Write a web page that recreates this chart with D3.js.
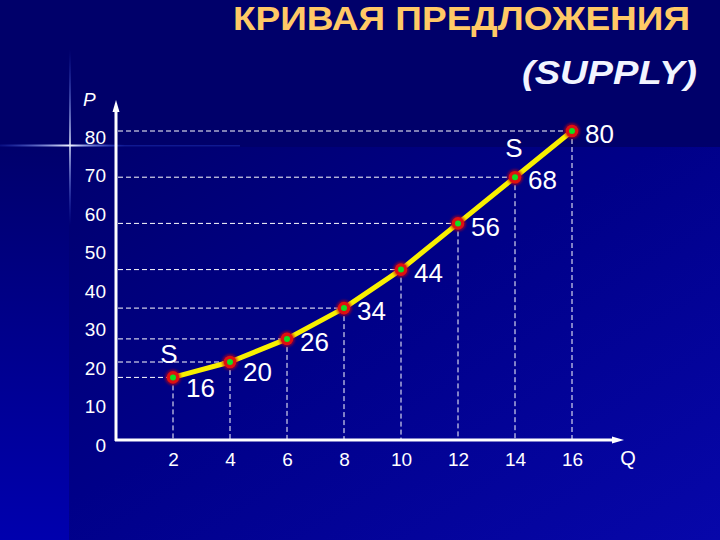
<!DOCTYPE html>
<html>
<head>
<meta charset="utf-8">
<script src="https://cdn.jsdelivr.net/npm/d3@7"></script>
<style>
  html, body { margin: 0; padding: 0; background: #000068; }
  svg { display: block; font-family: Arial, "Liberation Sans", sans-serif; }
</style>
</head>
<body>
<svg id="chart" width="720" height="540"></svg>
<script>
// supply schedule: quantity Q and price P
var quantity = [2, 4, 6, 8, 10, 12, 14, 16];
var price = [16, 20, 26, 34, 44, 56, 68, 80];
var yTicks = [0, 10, 20, 30, 40, 50, 60, 70, 80];
var xTicks = [2, 4, 6, 8, 10, 12, 14, 16];
var title = "КРИВАЯ ПРЕДЛОЖЕНИЯ";
var subtitle = "(SUPPLY)";

var svg = d3.select("#chart");
var defs = svg.append("defs");

// background pieces
var g1 = defs.append("linearGradient").attr("id", "mainBg")
  .attr("x1", 0).attr("y1", 0).attr("x2", 1).attr("y2", 1);
g1.append("stop").attr("offset", "0%").attr("stop-color", "#00006e");
g1.append("stop").attr("offset", "45%").attr("stop-color", "#000088");
g1.append("stop").attr("offset", "100%").attr("stop-color", "#0707aa");

var g2 = defs.append("linearGradient").attr("id", "leftBg")
  .attr("x1", 0).attr("y1", 0).attr("x2", 0).attr("y2", 1);
g2.append("stop").attr("offset", "0%").attr("stop-color", "#00006c");
g2.append("stop").attr("offset", "100%").attr("stop-color", "#0000ae");

var gh = defs.append("linearGradient").attr("id", "flareH");
gh.append("stop").attr("offset", "0%").attr("stop-color", "#3a5cff").attr("stop-opacity", 0.15);
gh.append("stop").attr("offset", "56%").attr("stop-color", "#f0f4ff").attr("stop-opacity", 1);
gh.append("stop").attr("offset", "100%").attr("stop-color", "#3a5cff").attr("stop-opacity", 0);

var gv = defs.append("linearGradient").attr("id", "flareV")
  .attr("x1", 0).attr("y1", 0).attr("x2", 0).attr("y2", 1);
gv.append("stop").attr("offset", "0%").attr("stop-color", "#3a5cff").attr("stop-opacity", 0);
gv.append("stop").attr("offset", "54%").attr("stop-color", "#e8f0ff").attr("stop-opacity", 1);
gv.append("stop").attr("offset", "100%").attr("stop-color", "#3a5cff").attr("stop-opacity", 0);

defs.append("filter").attr("id", "glow")
  .append("feGaussianBlur").attr("stdDeviation", 1.2);

svg.append("rect").attr("width", 720).attr("height", 540).attr("fill", "#00006a");
svg.append("rect").attr("x", 69).attr("y", 147).attr("width", 651).attr("height", 393)
  .attr("fill", "url(#mainBg)");
svg.append("rect").attr("x", 0).attr("y", 147).attr("width", 69).attr("height", 393)
  .attr("fill", "url(#leftBg)");

// lens-flare cross
svg.append("rect").attr("x", 70).attr("y", 145).attr("width", 170).attr("height", 1.5)
  .attr("fill", "#2a44dd").attr("opacity", 0.35);
svg.append("rect").attr("x", 0).attr("y", 144.5).attr("width", 125).attr("height", 2)
  .attr("fill", "url(#flareH)");
svg.append("rect").attr("x", 69).attr("y", 50).attr("width", 2).attr("height", 175)
  .attr("fill", "url(#flareV)").attr("opacity", 0.75);

// titles
svg.append("text")
  .attr("x", 233).attr("y", 30)
  .attr("textLength", 457).attr("lengthAdjust", "spacingAndGlyphs")
  .attr("font-size", 34).attr("font-weight", "bold")
  .attr("fill", "#ffc966")
  .text(title);

svg.append("text")
  .attr("x", 522).attr("y", 84)
  .attr("textLength", 175).attr("lengthAdjust", "spacingAndGlyphs")
  .attr("font-size", 34).attr("font-weight", "bold").attr("font-style", "italic")
  .attr("fill", "#f2f4ff")
  .text(subtitle);

// scales
var x = d3.scaleLinear().domain([0, 16]).range([116, 572]);
var y = d3.scaleLinear().domain([0, 80]).range([439, 131]);

// axes (labels only; lines drawn below with arrows)
var yAxis = svg.append("g")
  .attr("transform", "translate(116,0)")
  .call(d3.axisLeft(y).tickValues(yTicks).tickSize(0).tickPadding(10));
yAxis.select(".domain").remove();
yAxis.selectAll("text")
  .attr("transform", "translate(0,6)")
  .attr("font-size", 19).attr("font-family", "Arial, 'Liberation Sans', sans-serif")
  .attr("fill", "#ffffff");

var xAxis = svg.append("g")
  .attr("transform", "translate(0,440)")
  .call(d3.axisBottom(x).tickValues(xTicks).tickSize(0).tickPadding(13));
xAxis.select(".domain").remove();
xAxis.selectAll("text")
  .attr("font-size", 19).attr("font-family", "Arial, 'Liberation Sans', sans-serif")
  .attr("fill", "#ffffff");

// guide lines
var pts = quantity.map(function(q, i) { return {q: q, p: price[i]}; });

svg.append("g").selectAll("line.h")
  .data(pts).enter().append("line")
    .attr("x1", x(0) + 2).attr("x2", function(d) { return x(d.q); })
    .attr("y1", function(d) { return y(d.p); }).attr("y2", function(d) { return y(d.p); })
    .attr("stroke", "#ffffff").attr("stroke-width", 1).attr("stroke-dasharray", "5,3");

svg.append("g").selectAll("line.v")
  .data(pts).enter().append("line")
    .attr("x1", function(d) { return x(d.q); }).attr("x2", function(d) { return x(d.q); })
    .attr("y1", function(d) { return y(d.p); }).attr("y2", y(0))
    .attr("stroke", "#ffffff").attr("stroke-width", 1).attr("stroke-dasharray", "5,3");

// axis lines with arrows
svg.append("line")
  .attr("x1", x(0)).attr("x2", x(0)).attr("y1", y(0) + 2).attr("y2", 108)
  .attr("stroke", "#ffffff").attr("stroke-width", 3);
svg.append("path")
  .attr("d", "M" + x(0) + ",100 L" + (x(0) - 3.5) + ",112 L" + (x(0) + 3.5) + ",112 Z")
  .attr("fill", "#ffffff");

svg.append("line")
  .attr("x1", x(0) - 1).attr("x2", 614).attr("y1", y(0) + 1).attr("y2", y(0) + 1)
  .attr("stroke", "#ffffff").attr("stroke-width", 3);
svg.append("path")
  .attr("d", "M624," + (y(0) + 1) + " L612," + (y(0) - 2.5) + " L612," + (y(0) + 4.5) + " Z")
  .attr("fill", "#ffffff");

// axis names
svg.append("text").attr("x", 83).attr("y", 106)
  .attr("font-size", 19).attr("font-style", "italic").attr("fill", "#ffffff").text("P");
svg.append("text").attr("x", 628).attr("y", 465).attr("text-anchor", "middle")
  .attr("font-size", 20).attr("fill", "#ffffff").text("Q");

// supply curve
var line = d3.line()
  .x(function(d) { return x(d.q); })
  .y(function(d) { return y(d.p); });

svg.append("path")
  .datum(pts)
  .attr("d", line)
  .attr("fill", "none")
  .attr("stroke", "#f8f000")
  .attr("stroke-width", 5)
  .attr("stroke-linejoin", "round");

var marks = svg.append("g").selectAll("g")
  .data(pts).enter().append("g")
    .attr("transform", function(d) { return "translate(" + x(d.q) + "," + y(d.p) + ")"; });
marks.append("circle").attr("r", 8).attr("fill", "#c80010").attr("opacity", 0.6)
  .attr("filter", "url(#glow)");
marks.append("circle").attr("r", 6.3).attr("fill", "#e01010");
marks.append("circle").attr("r", 3).attr("fill", "#10e020");

// value labels
svg.append("g").selectAll("text")
  .data(pts).enter().append("text")
    .attr("x", function(d) { return x(d.q) + 13; })
    .attr("y", function(d, i) { return y(d.p) + (i < 2 ? 10 : 3); })
    .attr("dy", "0.35em")
    .attr("font-size", 26)
    .attr("fill", "#ffffff")
    .text(function(d) { return d.p; });

// curve name
svg.append("text").attr("x", x(2) - 4).attr("y", y(price[1]) - 8)
  .attr("text-anchor", "middle").attr("dy", "0.35em")
  .attr("font-size", 26).attr("fill", "#ffffff").text("S");
svg.append("text").attr("x", x(14) - 1).attr("y", y(price[6]) - 29)
  .attr("text-anchor", "middle").attr("dy", "0.35em")
  .attr("font-size", 26).attr("fill", "#ffffff").text("S");
</script>
</body>
</html>
